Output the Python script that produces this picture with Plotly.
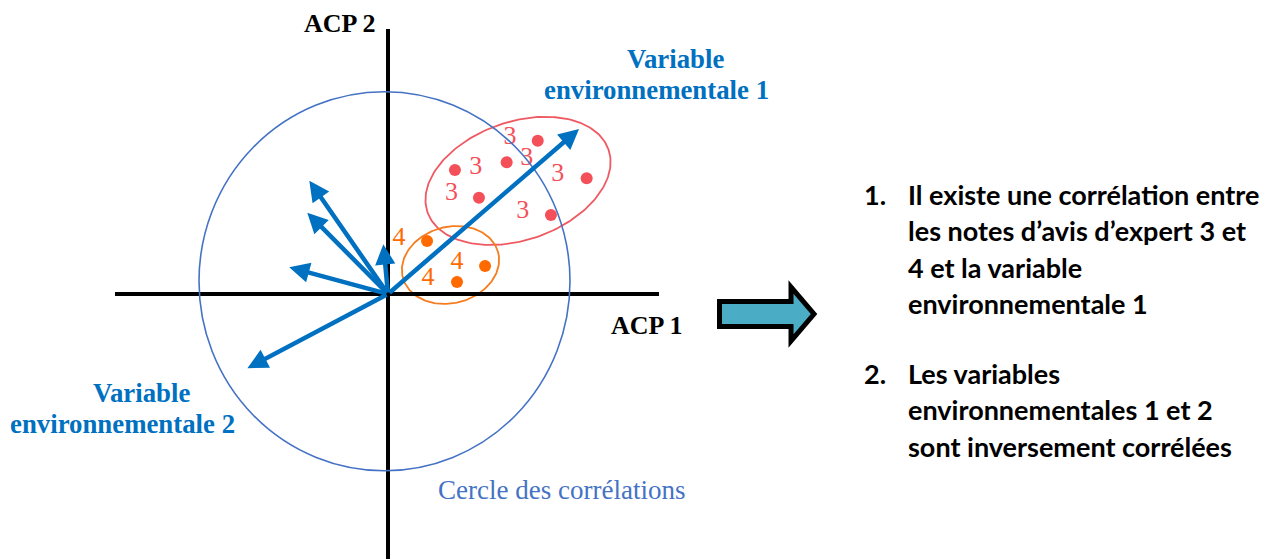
import numpy as np
import plotly.graph_objects as go

# ---------------- data (correlation-circle units, 1 = circle radius) ----------------
# loading vectors (PC1, PC2)
VAR_NAMES = ["Variable environnementale 1", "var A", "var B", "var C", "var D",
             "Variable environnementale 2"]
LOAD_PC1 = [1.027, -0.423, -0.434, -0.025, -0.531, -0.756]
LOAD_PC2 = [0.887, 0.609, 0.437, 0.267, 0.144, -0.399]

# individuals with expert note 3
NOTE3_PC1 = [0.805, 0.638, 0.360, 1.068, 0.489, 0.876]
NOTE3_PC2 = [0.824, 0.708, 0.667, 0.622, 0.518, 0.425]
NOTE3_LAB_PC1 = [0.656, 0.472, 0.746, 0.912, 0.342, 0.724]
NOTE3_LAB_PC2 = [0.842, 0.681, 0.726, 0.644, 0.538, 0.446]
NOTE3_TEXT = ["3", "3", "3", "3", "3", "3"]

# individuals with expert note 4
NOTE4_PC1 = [0.210, 0.522, 0.371]
NOTE4_PC2 = [0.285, 0.151, 0.065]
NOTE4_LAB_PC1 = [0.059, 0.371, 0.215]
NOTE4_LAB_PC2 = [0.296, 0.172, 0.081]
NOTE4_TEXT = ["4", "4", "4"]

CONCLUSIONS = [
    ("1.", ["Il existe une corrélation entre",
            "les notes d’avis d’expert 3 et",
            "4 et la variable",
            "environnementale 1"]),
    ("2.", ["Les variables",
            "environnementales 1 et 2",
            "sont inversement corrélées"]),
]

# ---------------- layout constants ----------------
PAGE_MARGIN = 8          # default body margin of the html page
W, H = 1271 - PAGE_MARGIN, 559 - PAGE_MARGIN
S = 186.0                # pixels per unit
OX, OY = 388, 294        # origin position in the screenshot

def px(xp, yp):
    return (xp - OX) / S, (OY - yp) / S

BLUE = "#0070C0"
CIRCLE_BLUE = "#4472C4"
RED_DOT = "#F4505A"
RED_LINE = "#EF5A62"
ORANGE_DOT = "#FF6A00"
ORANGE_LINE = "#F57C1F"
SERIF = "Liberation Serif, Times New Roman, serif"
SANS = "Lato, Liberation Sans, sans-serif"

fig = go.Figure()

# axes lines
hx0, _ = px(115, 0); hx1, _ = px(659, 0)
_, vy0 = px(0, 29); _, vy1 = px(0, 570)
fig.add_shape(type="line", x0=hx0, x1=hx1, y0=0, y1=0, line=dict(color="black", width=4))
fig.add_shape(type="line", x0=0, x1=0, y0=vy0, y1=vy1, line=dict(color="black", width=4))

# correlation circle
cx0, cy1 = px(199, 91.7); cx1, cy0 = px(570, 470.7)
fig.add_shape(type="circle", x0=cx0, x1=cx1, y0=cy0, y1=cy1,
              line=dict(color=CIRCLE_BLUE, width=1.6))

# ellipses
def ellipse(cx, cy, a, b, ang_deg):
    t = np.linspace(0, 2 * np.pi, 200)
    th = np.deg2rad(ang_deg)
    x = cx + a * np.cos(th) * np.cos(t) - b * np.sin(th) * np.sin(t)
    y = cy + a * np.sin(th) * np.cos(t) + b * np.cos(th) * np.sin(t)
    return x, y

ex, ey = ellipse(0.699, 0.608, 0.515, 0.318, 19.1)
fig.add_trace(go.Scatter(x=ex, y=ey, mode="lines", line=dict(color=RED_LINE, width=1.8),
                         hoverinfo="skip", showlegend=False))
ex, ey = ellipse(0.336, 0.156, 0.265, 0.205, 15)
fig.add_trace(go.Scatter(x=ex, y=ey, mode="lines", line=dict(color=ORANGE_LINE, width=1.8),
                         hoverinfo="skip", showlegend=False))

# points
fig.add_trace(go.Scatter(x=NOTE3_PC1, y=NOTE3_PC2, mode="markers",
                         marker=dict(color=RED_DOT, size=12), showlegend=False))
fig.add_trace(go.Scatter(x=NOTE3_LAB_PC1, y=NOTE3_LAB_PC2, mode="text", text=NOTE3_TEXT,
                         textfont=dict(family=SERIF, size=26, color=RED_DOT), showlegend=False))
fig.add_trace(go.Scatter(x=NOTE4_PC1, y=NOTE4_PC2, mode="markers",
                         marker=dict(color=ORANGE_DOT, size=12), showlegend=False))
fig.add_trace(go.Scatter(x=NOTE4_LAB_PC1, y=NOTE4_LAB_PC2, mode="text", text=NOTE4_TEXT,
                         textfont=dict(family=SERIF, size=26, color=ORANGE_DOT), showlegend=False))

# loading arrows
for x1, y1 in zip(LOAD_PC1, LOAD_PC2):
    fig.add_annotation(x=x1, y=y1, ax=0, ay=0, xref="x", yref="y", axref="x", ayref="y",
                       text="", showarrow=True, arrowhead=2, arrowsize=0.9, arrowwidth=4.5,
                       arrowcolor=BLUE, standoff=0)

# labels (paper-anchored so that none is hidden near the edges)
def label(text, xp, yp, size, color, bold=False, family=SERIF, anchor="left"):
    xf = (xp - PAGE_MARGIN) / W
    yf = 1 - (yp - PAGE_MARGIN) / H
    fig.add_annotation(x=xf, y=yf, xref="paper", yref="paper",
                       text=f"<b>{text}</b>" if bold else text,
                       showarrow=False, xanchor=anchor, yanchor="middle",
                       font=dict(family=family, size=size, color=color))

label("ACP 2", 302, 23, 26, "black", bold=True)
label("ACP 1", 609, 325, 26, "black", bold=True)
label("Variable", 625, 59, 26.8, BLUE, bold=True)
label("environnementale 1", 542, 90, 26.8, BLUE, bold=True)
label("Variable", 91, 393, 26.8, BLUE, bold=True)
label("environnementale 2", 8, 424, 26.8, BLUE, bold=True)
label("Cercle des corrélations", 436, 490, 27, CIRCLE_BLUE)

# block arrow
pts = [(719.5, 301.5), (791, 301.5), (791, 287), (814, 314), (791, 341), (791, 326.5), (719.5, 326.5)]
path = "M " + " L ".join(f"{px(a, b)[0]:.4f},{px(a, b)[1]:.4f}" for a, b in pts) + " Z"
fig.add_shape(type="path", path=path, fillcolor="#4BACC6", line=dict(color="black", width=5))

# conclusions text
line_y = [[194, 230, 267, 303], [373, 409, 446]]
for (num, lines), ys in zip(CONCLUSIONS, line_y):
    label(num, 862, ys[0], 27, "black", bold=True, family=SANS)
    for txt, yy in zip(lines, ys):
        label(txt, 906, yy, 27, "black", bold=True, family=SANS)

# screen x = PAGE_MARGIN + figure x, so shift the axis ranges accordingly
fx0 = OX - PAGE_MARGIN
fy0 = OY - PAGE_MARGIN
fig.update_layout(
    width=W, height=H, margin=dict(l=0, r=0, t=0, b=0),
    paper_bgcolor="white", plot_bgcolor="white",
    xaxis=dict(range=[-fx0 / S, (W - fx0) / S], visible=False, fixedrange=True),
    yaxis=dict(range=[-(H - fy0) / S, fy0 / S], visible=False, fixedrange=True),
    showlegend=False,
)

fig.write_html("out.html")
